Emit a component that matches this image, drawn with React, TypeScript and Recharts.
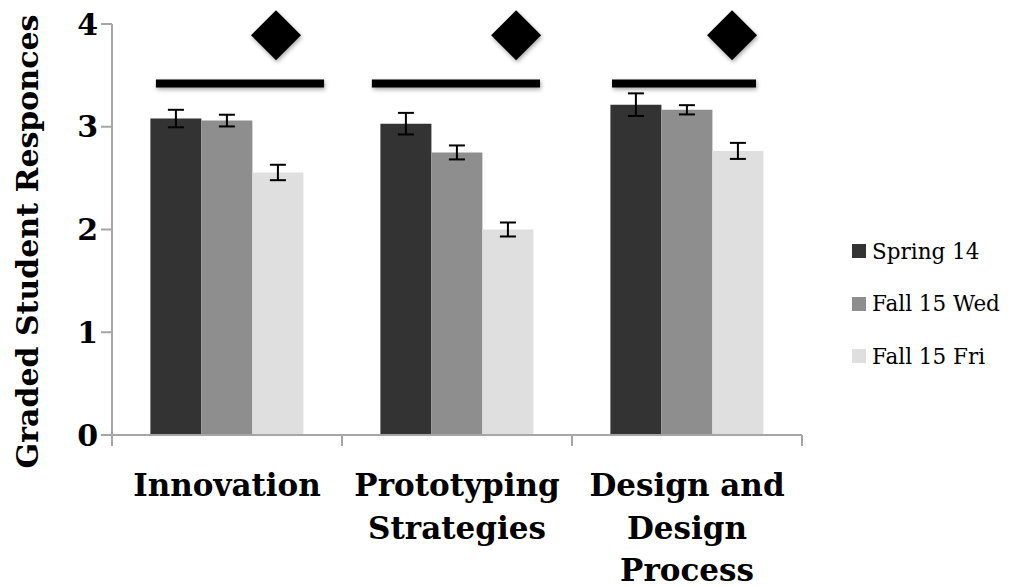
import React from 'react';
import { ComposedChart, Bar, ErrorBar, XAxis, YAxis, ReferenceDot, ReferenceLine, Legend } from 'recharts';

const categories = ['Innovation', 'Prototyping Strategies', 'Design and Design Process'];
const tickLines = [['Innovation'], ['Prototyping', 'Strategies'], ['Design and', 'Design', 'Process']];

const spring14 = [3.08, 3.03, 3.215];
const spring14Err = [0.085, 0.105, 0.11];
const fallWed = [3.06, 2.75, 3.165];
const fallWedErr = [0.057, 0.068, 0.045];
const fallFri = [2.555, 2.0, 2.765];
const fallFriErr = [0.075, 0.068, 0.078];

const yTicks = [0, 1, 2, 3, 4];

// significance bars and diamond markers, x in category units (0..3)
const sigStart = [0.191, 1.13, 2.174];
const sigEnd = [0.922, 1.861, 2.8];
const sigLevel = 3.42;
const diamondX = [0.713, 1.757, 2.696];
const diamondLevel = 3.89;
const boundaries = [0, 1, 2, 3];

const series = [
  { key: 'spring', name: 'Spring 14', color: '#333333' },
  { key: 'wed', name: 'Fall 15 Wed', color: '#8e8e8e' },
  { key: 'fri', name: 'Fall 15 Fri', color: '#dfdfdf' },
];

const data = categories.map((c, i) => ({
  name: c,
  spring: spring14[i],
  springErr: spring14Err[i],
  wed: fallWed[i],
  wedErr: fallWedErr[i],
  fri: fallFri[i],
  friErr: fallFriErr[i],
}));

const serif = '"DejaVu Serif", serif';
const axisGray = '#a6a6a6';
const shadow = 'drop-shadow(1px 2px 2px rgba(0,0,0,0.35))';

const CategoryTick = (props: any) => {
  const { x, y, index } = props;
  const lines = tickLines[index] || [];
  return (
    <text x={x} y={y + 53} textAnchor="middle" fontFamily={serif} fontWeight="bold" fontSize={31} fill="#000">
      {lines.map((l, i) => (
        <tspan key={i} x={x} dy={i === 0 ? 0 : 42.5}>
          {l}
        </tspan>
      ))}
    </text>
  );
};

const Diamond = (props: any) => {
  const { cx, cy } = props;
  const r = 25;
  return (
    <polygon
      points={`${cx},${cy - r} ${cx + r},${cy} ${cx},${cy + r} ${cx - r},${cy}`}
      fill="#000"
      style={{ filter: shadow }}
    />
  );
};

const LegendBox = () => (
  <div style={{ fontFamily: serif, fontSize: 21.5, color: '#000' }}>
    {series.map((s) => (
      <div key={s.key} style={{ display: 'flex', alignItems: 'center', height: 52.5 }}>
        <span style={{ display: 'inline-block', width: 14, height: 14, background: s.color, marginRight: 6 }} />
        <span>{s.name}</span>
      </div>
    ))}
  </div>
);

export default function App() {
  return (
    <div style={{ position: 'absolute', left: 0, top: 0, background: '#fff' }}>
      <ComposedChart width={1011} height={587} data={data} margin={{ top: 24, right: 209, bottom: 0, left: 0 }} barCategoryGap="16.7%" barGap={0}>
        <XAxis
          dataKey="name"
          height={152}
          axisLine={{ stroke: axisGray, strokeWidth: 2 }}
          tickLine={false}
          tick={<CategoryTick />}
          interval={0}
        />
        <XAxis xAxisId="pos" type="number" dataKey="x" domain={[0, 3]} allowDataOverflow hide />
        <YAxis
          width={112}
          domain={[0, 4]}
          ticks={yTicks}
          allowDataOverflow
          axisLine={{ stroke: axisGray, strokeWidth: 2 }}
          tickLine={{ stroke: axisGray, strokeWidth: 2 }}
          tickSize={11}
          tickMargin={3}
          tick={{ fontFamily: serif, fontWeight: 'bold', fontSize: 30, fill: '#000' }}
          label={({ viewBox }: any) => (
            <text
              x={27}
              y={viewBox.y + viewBox.height / 2 + 12}
              transform={`rotate(-90, 27, ${viewBox.y + viewBox.height / 2 + 12})`}
              textAnchor="middle"
              dominantBaseline="central"
              fontFamily={serif}
              fontWeight="bold"
              fontSize={30}
              fill="#000"
            >
              Graded Student Responces
            </text>
          )}
        />
        {series.map((s) => (
          <Bar key={s.key} dataKey={s.key} name={s.name} fill={s.color} isAnimationActive={false}>
            <ErrorBar dataKey={`${s.key}Err`} width={8} stroke="#000" strokeWidth={2} direction="y" isAnimationActive={false} />
          </Bar>
        ))}
        {boundaries.map((b) => (
          <ReferenceLine
            key={`b${b}`}
            xAxisId="pos"
            segment={[{ x: b, y: 0 }, { x: b, y: -0.107 }]}
            stroke={axisGray}
            strokeWidth={2}
            ifOverflow="visible"
          />
        ))}
        {sigStart.map((s, i) => (
          <ReferenceLine
            key={`s${i}`}
            xAxisId="pos"
            segment={[{ x: s, y: sigLevel }, { x: sigEnd[i], y: sigLevel }]}
            stroke="#000"
            strokeWidth={8}
            ifOverflow="visible"
            style={{ filter: shadow }}
          />
        ))}
        {diamondX.map((x, i) => (
          <ReferenceDot key={`d${i}`} xAxisId="pos" x={x} y={diamondLevel} ifOverflow="visible" shape={<Diamond />} />
        ))}
        <Legend
          layout="vertical"
          align="center"
          verticalAlign="middle"
          content={<LegendBox />}
          wrapperStyle={{ left: 852, top: 225, width: 160 }}
        />
      </ComposedChart>
    </div>
  );
}
